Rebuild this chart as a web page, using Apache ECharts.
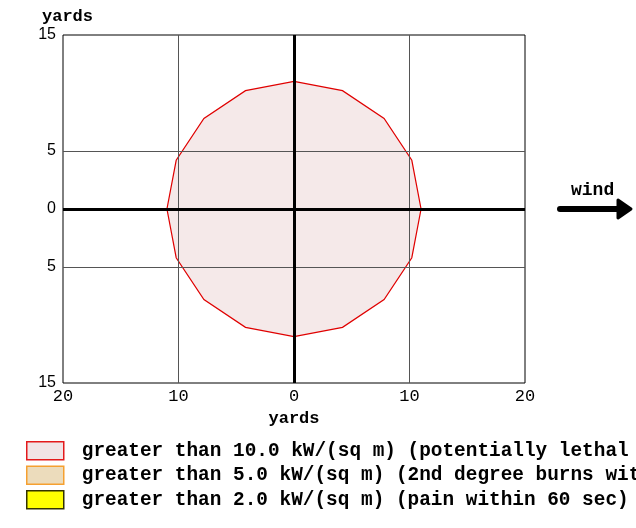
<!DOCTYPE html>
<html>
<head>
<meta charset="utf-8">
<script src="https://cdn.jsdelivr.net/npm/echarts@6/dist/echarts.min.js"></script>
<style>
  html, body { margin: 0; padding: 0; background: #fff; }
  #chart { width: 636px; height: 528px; }
</style>
</head>
<body>
<div id="chart"></div>
<script>
// threat zone outline (yards)
const zoneX = [0, 4.2, 7.8, 10.2, 11.0, 10.2, 7.8, 4.2, 0, -4.2, -7.8, -10.2, -11.0, -10.2, -7.8, -4.2];
const zoneY = [11.0, 10.2, 7.8, 4.2, 0, -4.2, -7.8, -10.2, -11.0, -10.2, -7.8, -4.2, 0, 4.2, 7.8, 10.2];

const xTicks = [-20, -10, 0, 10, 20];
const yTicks = [-15, -5, 0, 5, 15];
const xGrid = [-10, 10];
const yGrid = [-5, 5];

const zoneNames = [
  'greater than 10.0 kW/(sq m) (potentially lethal within 60 sec)',
  'greater than 5.0 kW/(sq m) (2nd degree burns within 60 sec)',
  'greater than 2.0 kW/(sq m) (pain within 60 sec)'
];

const mono = '"Liberation Mono", "Courier New", monospace';
const sans = '"Liberation Sans", Arial, sans-serif';

let chart = echarts.init(document.getElementById('chart'));

const option = {
  animation: false,
  grid: {
    left: 63, right: 111, top: 35, bottom: 145,
    show: true, borderColor: '#000', borderWidth: 1
  },
  xAxis: {
    type: 'value', min: -20, max: 20, interval: 10,
    axisLine: { show: false, onZero: false },
    axisTick: { show: false },
    splitLine: { show: false },
    axisLabel: {
      margin: 5,
      color: '#000',
      fontFamily: mono,
      fontSize: 17,
      formatter: v => xTicks.includes(v) ? String(Math.abs(v)) : ''
    },
    name: 'yards',
    nameLocation: 'middle',
    nameGap: 21,
    nameTextStyle: { color: '#000', fontFamily: mono, fontWeight: 'bold', fontSize: 17 }
  },
  yAxis: {
    type: 'value', min: -15, max: 15, interval: 5,
    axisLine: { show: false, onZero: false },
    axisTick: { show: false },
    splitLine: { show: false },
    axisLabel: {
      margin: 7,
      color: '#000',
      fontFamily: sans,
      fontSize: 16,
      formatter: v => yTicks.includes(v) ? String(Math.abs(v)) : ''
    }
  },
  legend: {
    orient: 'vertical',
    left: 21,
    top: 436,
    itemWidth: 37,
    itemHeight: 18,
    itemGap: 5,
    selectedMode: false,
    icon: 'rect',
    textStyle: { color: '#000', fontFamily: mono, fontWeight: 'bold', fontSize: 19.4, padding: [0, 0, 0, 13] },
    data: [
      { name: zoneNames[0], itemStyle: { color: '#f1e4e6', borderColor: '#e31a1c', borderWidth: 1.5 } },
      { name: zoneNames[1], itemStyle: { color: '#ecdcbc', borderColor: '#f5a030', borderWidth: 1.5 } },
      { name: zoneNames[2], itemStyle: { color: '#ffff00', borderColor: '#333300', borderWidth: 1.5 } }
    ]
  },
  graphic: [
    {
      type: 'text', left: 42, top: 8,
      style: { text: 'yards', fill: '#000', font: 'bold 17px ' + mono }
    },
    {
      type: 'text', left: 571, top: 181,
      style: { text: 'wind', fill: '#000', font: 'bold 18px ' + mono }
    },
    {
      type: 'line',
      shape: { x1: 560, y1: 209, x2: 620, y2: 209 },
      style: { stroke: '#000', lineWidth: 6, lineCap: 'round' }
    },
    {
      type: 'polygon',
      shape: { points: [[618, 200], [631, 209], [618, 218]] },
      style: { fill: '#000', stroke: '#000', lineWidth: 3, lineJoin: 'round' }
    }
  ],
  series: [
    {
      name: zoneNames[0],
      type: 'custom',
      data: [0],
      renderItem: (params, api) => {
        const pts = zoneX.map((x, i) => api.coord([x, zoneY[i]]));
        return {
          type: 'polygon',
          shape: { points: pts },
          style: { fill: '#f5e9e9', stroke: '#e00000', lineWidth: 1.2 }
        };
      },
      z: 2
    },
    { name: zoneNames[1], type: 'custom', data: [], renderItem: () => null },
    { name: zoneNames[2], type: 'custom', data: [], renderItem: () => null },
    {
      name: 'grid lines',
      type: 'line',
      data: [],
      markLine: {
        silent: true,
        symbol: 'none',
        label: { show: false },
        lineStyle: { color: '#555', width: 1, type: 'solid' },
        data: xGrid.map(v => ({ xAxis: v })).concat(yGrid.map(v => ({ yAxis: v })))
      },
      z: 1
    },
    {
      name: 'zero lines',
      type: 'line',
      data: [],
      markLine: {
        silent: true,
        symbol: 'none',
        label: { show: false },
        lineStyle: { color: '#000', width: 3, type: 'solid' },
        data: [{ xAxis: 0 }, { yAxis: 0 }]
      },
      z: 3
    }
  ]
};

chart.setOption(option);
</script>
</body>
</html>
